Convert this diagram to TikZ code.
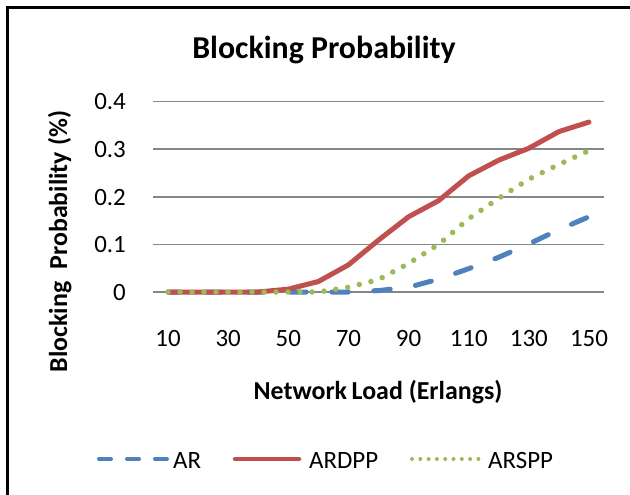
\documentclass[tikz,border=0pt]{standalone}
\usepackage{fontspec}
\setmainfont{Carlito}
\definecolor{serred}{HTML}{C0504D}
\definecolor{serblue}{HTML}{4F81BD}
\definecolor{sergreen}{HTML}{9BBB59}
\definecolor{gridgray}{HTML}{868686}
\begin{document}
\begin{tikzpicture}[x=1bp,y=-1bp,
  gridline/.style={draw=gridgray, line width=1.6bp},
  ticklbl/.style={font=\fontsize{25}{25}\selectfont, inner sep=0pt},
  axlbl/.style={font=\bfseries\fontsize{26}{26}\selectfont, inner sep=0pt},
  titlelbl/.style={font=\bfseries\fontsize{32}{32}\selectfont, inner sep=0pt},
  serAR/.style={draw=serblue, line width=5bp, line cap=round, line join=round, dash pattern=on 16.5bp off 25.5bp, dash phase=-2.5bp},
  serARDPP/.style={draw=serred, line width=5bp, line cap=round, line join=round},
  serARSPP/.style={draw=sergreen, line width=5.5bp, line cap=round, dash pattern=on 0bp off 12bp},
]
\useasboundingbox (0,0) rectangle (630,495);
\fill[white] (0,0) rectangle (630,495);
\begin{scope}
  \clip (0,0) rectangle (630,495);
  \draw[line width=2.2bp] (7.5,7.5) rectangle (660,530);
\end{scope}

% title
\node[titlelbl, anchor=base] (title) at (324,59) {Blocking Probability};

% gridlines and y tick labels
\foreach \v/\lbl in {0/0, 1/0.1, 2/0.2, 3/0.3, 4/0.4} {
  \draw[gridline] (153,{292-47.6*\v}) -- (604,{292-47.6*\v});
  \node[ticklbl, anchor=base east] (ytick\v) at (126,{292-47.6*\v+8.4}) {\lbl};
}

% x tick labels
\foreach \l in {10,30,50,70,90,110,130,150} {
  \node[ticklbl, anchor=base] (xtick\l) at ({168+3.007*(\l-10)},346) {\l};
}

% axis titles
\node[axlbl, anchor=base] (xtitle) at (378,399) {Network\hspace{-0.05em} Load (Erlangs)};
\node[axlbl, anchor=base, rotate=90] (ytitle) at (67,241.7) {Blocking\hspace{0.25em} Probability (\%)};

% data series
\begin{scope}[shift={(168,292)}, x=3.007bp, y=476bp]
  \draw[serAR] plot coordinates {(140,0.158) (130,0.131) (120,0.101) (110,0.073) (100,0.049) (90,0.027) (80,0.01) (70,0.003) (60,0) (50,0) (40,0) (30,0) (20,0) (10,0) (0,0)};
  \draw[serARDPP] plot coordinates {(0,0) (10,0) (20,0) (30,0) (40,0.006) (50,0.022) (60,0.057) (70,0.109) (80,0.158) (90,0.192) (100,0.244) (110,0.277) (120,0.302) (130,0.337) (140,0.357)};
  \draw[serARSPP] plot coordinates {(0,0) (10,0) (20,0) (30,0) (40,0) (50,0) (60,0.01) (70,0.026) (80,0.06) (90,0.10) (100,0.154) (110,0.197) (120,0.237) (130,0.268) (140,0.297)};
\end{scope}

% legend
\coordinate (lgA1) at (99,459);
\coordinate (lgA2) at (167,459);
\draw[draw=serblue, line width=4bp, line cap=round, dash pattern=on 12bp off 16bp] (lgA1) -- (lgA2);
\node[ticklbl, anchor=base west] (lgAR) at (173,468) {AR};
\coordinate (lgB1) at (235,459);
\coordinate (lgB2) at (299,459);
\draw[draw=serred, line width=4.5bp, line cap=round] (lgB1) -- (lgB2);
\node[ticklbl, anchor=base west] (lgARDPP) at (309,468) {ARDPP};
\coordinate (lgC1) at (412,459);
\coordinate (lgC2) at (478.5,459);
\draw[draw=sergreen, line width=4bp, line cap=round, dash pattern=on 0bp off 8.3bp] (lgC1) -- (lgC2);
\node[ticklbl, anchor=base west] (lgARSPP) at (488,468) {ARSPP};
\end{tikzpicture}
\end{document}
